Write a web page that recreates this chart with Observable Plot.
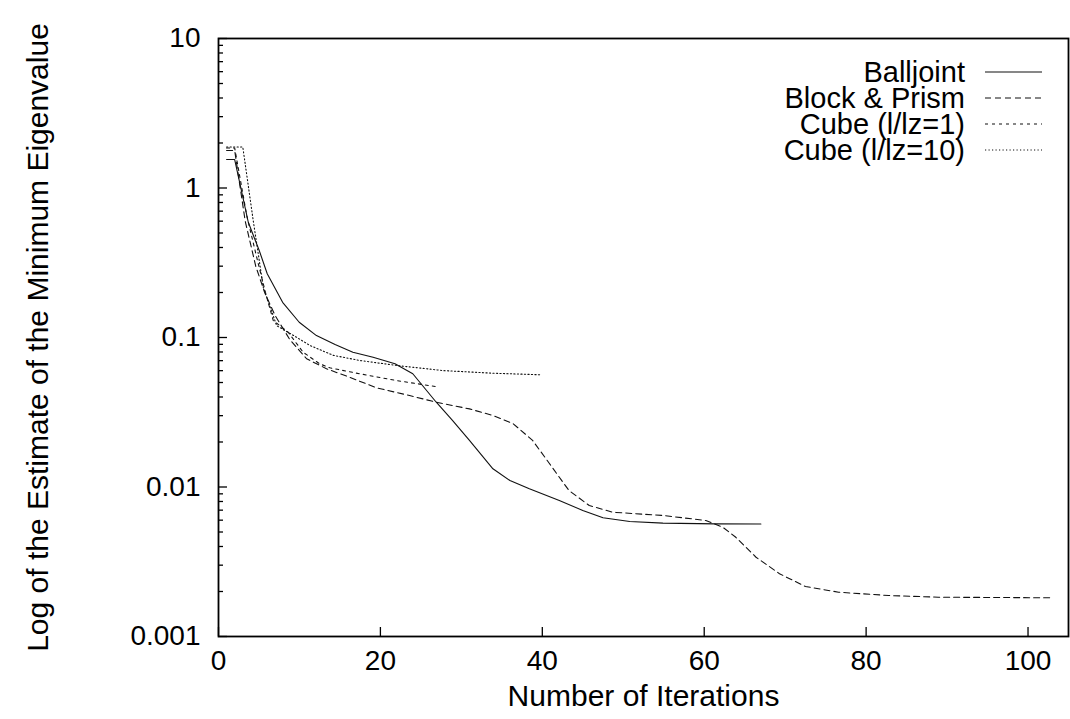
<!DOCTYPE html>
<html>
<head>
<meta charset="utf-8">
<script src="https://cdn.jsdelivr.net/npm/d3@7"></script>
<script src="https://cdn.jsdelivr.net/npm/@observablehq/plot@0.6"></script>
<style>
  html, body { margin: 0; padding: 0; background: #fff; }
  #chart { position: relative; width: 1070px; height: 719px; }
</style>
</head>
<body>
<div id="chart"></div>
<script>
// ---- data ----
const seriesNames = ["Balljoint", "Block & Prism", "Cube (l/lz=1)", "Cube (l/lz=10)"];

const balljointX = [1, 2, 3.68, 5.03, 6.02, 7.92, 9.97, 12.1, 14.4, 16.6, 19.1, 21.8, 24.0, 26.9, 28.9, 31.0, 33.9, 36.0, 38.4, 42.1, 45.0, 47.5, 50.8, 54.9, 61.4, 67.0];
const balljointY = [1.55, 1.55, 0.59, 0.382, 0.267, 0.172, 0.1265, 0.103, 0.0898, 0.0797, 0.0738, 0.0667, 0.0572, 0.0369, 0.0279, 0.0205, 0.01324, 0.01105, 0.00972, 0.00813, 0.00697, 0.00622, 0.00588, 0.00573, 0.00567, 0.00566];

const blockX = [1, 2, 3.3, 4.6, 5.7, 7.0, 8.8, 10.88, 13.34, 16.2, 19.5, 23.6, 26.9, 31.0, 33.9, 36.4, 38.8, 40.9, 43.3, 45.8, 48.7, 54.9, 60.2, 62.3, 63.9, 66.4, 69.3, 72.5, 76.6, 82.8, 88.9, 102.9];
const blockY = [1.78, 1.78, 0.6, 0.3, 0.2, 0.14, 0.097, 0.0721, 0.0618, 0.0542, 0.0461, 0.0409, 0.0369, 0.0333, 0.0301, 0.0265, 0.0205, 0.0143, 0.00947, 0.00752, 0.00678, 0.00645, 0.00597, 0.00538, 0.00461, 0.00339, 0.00263, 0.00216, 0.001978, 0.00188, 0.001832, 0.001815];

const cube1X = [1, 2, 3.5, 4.8, 5.8, 6.76, 8.6, 10.46, 12.5, 13.75, 17.45, 22.0, 26.8];
const cube1Y = [1.85, 1.85, 0.65, 0.33, 0.2, 0.13, 0.1085, 0.0797, 0.0667, 0.0627, 0.0572, 0.0515, 0.047];

const cube10X = [1, 3, 4.29, 5.53, 7.18, 9.64, 11.3, 14.2, 17.45, 22.0, 27.7, 33.9, 39.9];
const cube10Y = [1.88, 1.88, 0.606, 0.217, 0.12, 0.1004, 0.0884, 0.0759, 0.0702, 0.065, 0.0601, 0.0577, 0.0563];

const xTicks = [0, 20, 40, 60, 80, 100];
const yTicks = [10, 1, 0.1, 0.01, 0.001];
const yTickLabels = ["10", "1", "0.1", "0.01", "0.001"];
const yMinorTicks = [];
for (const dec of [0.001, 0.01, 0.1, 1]) for (let k = 2; k <= 9; k++) yMinorTicks.push(+(dec * k).toPrecision(3));

const xLabel = "Number of Iterations";
const yLabel = "Log of the Estimate of the Minimum Eigenvalue";

// ---- build ----
const zip = (xs, ys) => xs.map((x, i) => ({x, y: ys[i]}));
const series = [
  {name: seriesNames[0], data: zip(balljointX, balljointY), dash: null},
  {name: seriesNames[1], data: zip(blockX, blockY), dash: "6,4"},
  {name: seriesNames[2], data: zip(cube1X, cube1Y), dash: "3,4"},
  {name: seriesNames[3], data: zip(cube10X, cube10Y), dash: "1.2,2.3"}
];

const W = 1070, H = 719;
const mL = 218, mR = 2, mT = 38, mB = 83;
const plotW = W - mL - mR, plotH = H - mT - mB;
const FONT = "Liberation Sans, Arial, Helvetica, sans-serif";
const FS_TICK = 28, FS_LEG = 29, FS_TITLE = 30;

const plot = Plot.plot({
  width: W,
  height: H,
  marginLeft: mL,
  marginRight: mR,
  marginTop: mT,
  marginBottom: mB,
  style: {fontFamily: FONT, fontSize: FS_TICK + "px", background: "#fff", color: "#000"},
  x: {domain: [0, 105]},
  y: {type: "log", domain: [0.001, 10]},
  marks: [
    // tick marks pointing inward
    Plot.tickX(xTicks, {x: d => d, stroke: "#000", strokeWidth: 1.3, insetTop: plotH - 9}),
    Plot.tickY(yTicks, {y: d => d, stroke: "#000", strokeWidth: 1.3, insetRight: plotW - 9}),
    Plot.tickY(yMinorTicks, {y: d => d, stroke: "#000", strokeWidth: 1.3, insetRight: plotW - 5}),
    // tick labels
    Plot.axisX({ticks: xTicks, tickSize: 0, tickPadding: 14, label: null, fontSize: FS_TICK, tickFormat: d => String(d)}),
    Plot.axisY({ticks: yTicks, tickSize: 0, tickPadding: 18, label: null, fontSize: FS_TICK,
      tickFormat: d => yTickLabels[yTicks.indexOf(d)]}),
    // series
    ...series.map(s => Plot.line(s.data, {x: "x", y: "y", stroke: "#111", strokeWidth: 1.1,
      strokeDasharray: s.dash, curve: "linear"})),
    // frame
    Plot.frame({stroke: "#000", strokeWidth: 1.8}),
    // axis titles
    Plot.text([xLabel], {text: d => d, frameAnchor: "bottom", lineAnchor: "middle", textAnchor: "middle", dy: 60, fontSize: FS_TITLE, fill: "#000"}),
    Plot.text([yLabel], {text: d => d, frameAnchor: "left", lineAnchor: "middle", textAnchor: "middle", dx: -180, rotate: -90, fontSize: FS_TITLE, fill: "#000"})
  ]
});

document.getElementById("chart").appendChild(plot);

// ---- legend (inside top-right) ----
const sx = plot.scale("x");
const right = sx.range[1];
const svg = d3.select(plot);
const lg = svg.append("g").attr("font-family", FONT).attr("font-size", FS_LEG);
series.forEach((s, i) => {
  const yy = mT + 34 + i * 26;
  lg.append("text")
    .attr("x", right - 103)
    .attr("y", yy)
    .attr("dy", "0.35em")
    .attr("text-anchor", "end")
    .attr("fill", "#000")
    .text(s.name);
  lg.append("line")
    .attr("x1", right - 83).attr("x2", right - 26)
    .attr("y1", yy).attr("y2", yy)
    .attr("stroke", "#111").attr("stroke-width", 1.1)
    .attr("stroke-dasharray", s.dash);
});
</script>
</body>
</html>
